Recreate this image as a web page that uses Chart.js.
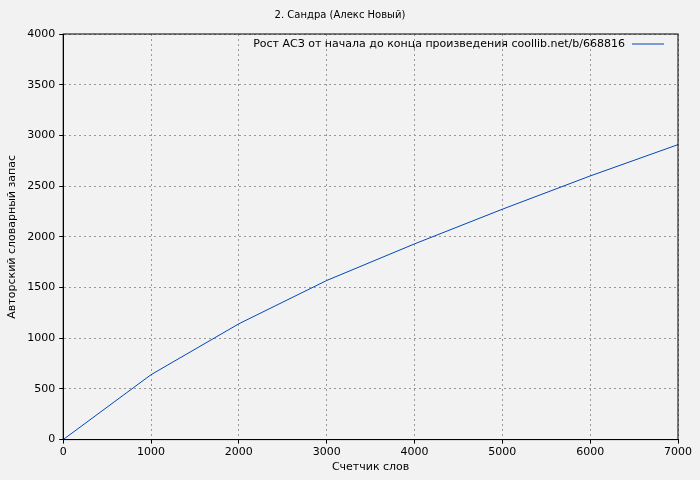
<!DOCTYPE html>
<html><head><meta charset="utf-8">
<script src="https://cdn.jsdelivr.net/npm/chart.js@4/dist/chart.umd.min.js"></script>
<style>html,body{margin:0;background:#f2f2f2}#c{width:700px;height:480px}</style>
</head><body><div id="c"><canvas id="g" width="700" height="480"></canvas></div>
<script>
const slova = [0, 1000, 2000, 3000, 4000, 5000, 6000, 7000];
const zapas = [0, 640, 1142, 1569, 1930, 2272, 2600, 2909];
const xTicks = [0, 1000, 2000, 3000, 4000, 5000, 6000, 7000];
const yTicks = [0, 500, 1000, 1500, 2000, 2500, 3000, 3500, 4000];

const legendPlugin = {
  id: "leg",
  afterDraw(ch) {
    const c = ch.ctx, a = ch.chartArea;
    c.save();
    c.font = "11px 'DejaVu Sans'";
    c.fillStyle = "#000";
    c.textAlign = "right";
    c.textBaseline = "middle";
    c.fillText(ch.data.datasets[0].label, a.right - 53, a.top + 10);
    c.strokeStyle = "#0047bb";
    c.lineWidth = 1;
    c.beginPath(); c.moveTo(a.right - 46, a.top + 10); c.lineTo(a.right - 14, a.top + 10); c.stroke();
    c.restore();
  }
};

const tickFont = { family: "DejaVu Sans", size: 11 };

new Chart(document.getElementById("g"), {
  type: "line",
  data: { datasets: [{
    label: "Рост АСЗ от начала до конца произведения coollib.net/b/668816",
    data: slova.map((x, i) => ({ x: x, y: zapas[i] })),
    borderColor: "#0047bb", borderWidth: 1, pointRadius: 0, tension: 0, fill: false
  }]},
  options: {
    responsive: false, animation: false,
    layout: { padding: { left: 2, right: 22, top: 0, bottom: 6 } },
    plugins: {
      legend: { display: false },
      tooltip: { enabled: false },
      title: { display: true, text: "2. Сандра (Алекс Новый)", color: "#000",
        font: { family: "DejaVu Sans", size: 10, weight: "normal" }, padding: { top: 9, bottom: 13 } }
    },
    scales: {
      x: { type: "linear", min: 0, max: 7000,
        afterBuildTicks: s => { s.ticks = xTicks.map(v => ({ value: v })); },
        ticks: { color: "#000", font: tickFont, maxRotation: 0, padding: 2, callback: v => String(v) },
        grid: { color: "#999", tickLength: 4, tickColor: "#000" },
        border: { color: "#000", width: 1, dash: [2, 3] },
        title: { display: true, text: "Счетчик слов", color: "#000", font: tickFont, padding: 0 } },
      y: { min: 0, max: 4000,
        afterBuildTicks: s => { s.ticks = yTicks.map(v => ({ value: v })); },
        ticks: { color: "#000", font: tickFont, padding: 4, callback: v => String(v) },
        grid: { color: "#999", tickLength: 4, tickColor: "#000" },
        border: { color: "#000", width: 1, dash: [2, 3] },
        title: { display: true, text: "Авторский словарный запас", color: "#000", font: tickFont, padding: 4 } }
    }
  },
  plugins: [legendPlugin, {
    id: "box",
    afterDraw(ch) {
      const c = ch.ctx, a = ch.chartArea;
      c.save(); c.strokeStyle = "#000"; c.lineWidth = 1;
      c.strokeRect(a.left, a.top, a.right - a.left, a.bottom - a.top);
      c.restore();
    }
  }]
});
</script></body></html>
